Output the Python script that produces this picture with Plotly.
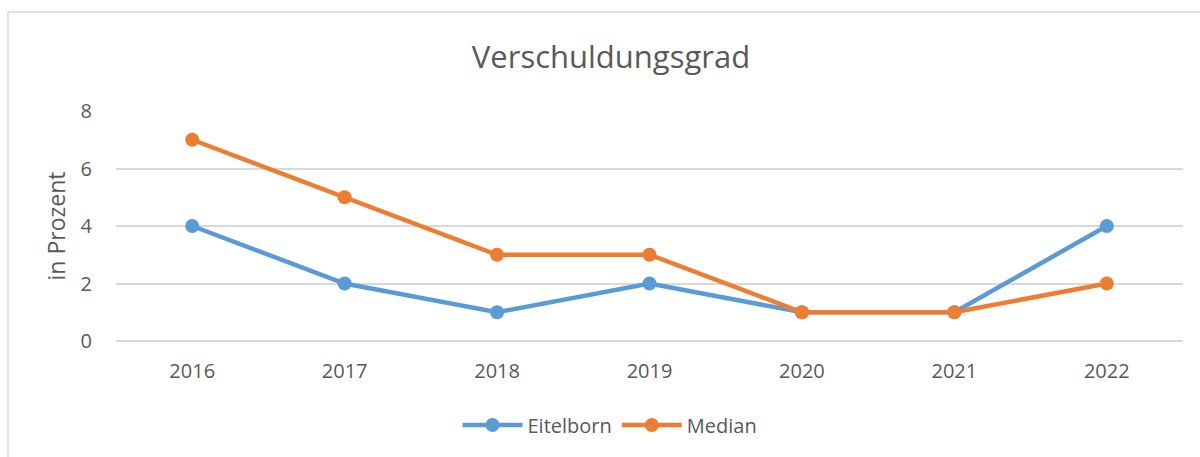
import plotly.graph_objects as go

years = ["2016", "2017", "2018", "2019", "2020", "2021", "2022"]
eitelborn = [4, 2, 1, 2, 1, 1, 4]
median = [7, 5, 3, 3, 1, 1, 2]
y_ticks = [0, 2, 4, 6, 8]

W, H = 1200, 457
L, R, T, B = 116, 17, 111, 116
pw, ph = W - L - R, H - T - B

def px_x(px):
    return (px - L) / pw

def px_y(py):
    return (H - B - py) / ph

fig = go.Figure()
fig.add_trace(go.Scatter(x=years, y=eitelborn, name="Eitelborn", mode="lines+markers",
                         line=dict(color="#5B9BD5", width=4.5), marker=dict(size=14, color="#5B9BD5")))
fig.add_trace(go.Scatter(x=years, y=median, name="Median", mode="lines+markers",
                         line=dict(color="#ED7D31", width=4.5), marker=dict(size=14, color="#ED7D31")))

fig.update_layout(
    width=W, height=H,
    margin=dict(l=L, r=R, t=T, b=B),
    paper_bgcolor="white", plot_bgcolor="white",
    font=dict(family="Open Sans, Liberation Sans, sans-serif", color="#595959", size=20),
    title=dict(text="Verschuldungsgrad", x=px_x(611), xref="paper", xanchor="center",
               y=1 - 57 / H, yanchor="middle", yref="container",
               font=dict(size=31, color="#595959")),
    xaxis=dict(type="category", range=[-0.5, 6.5], showgrid=False, zeroline=False,
               showline=False, ticks="", ticklabelstandoff=16, tickfont=dict(size=20)),
    yaxis=dict(range=[0, 8], tickvals=y_ticks, showgrid=True, gridcolor="#D9D9D9",
               gridwidth=1.5, zeroline=True, zerolinecolor="#D9D9D9", zerolinewidth=1.5,
               showline=False, ticks="", ticklabelstandoff=23,
               title=dict(text="in Prozent", font=dict(size=23), standoff=8),
               tickfont=dict(size=20)),
    legend=dict(orientation="h", x=px_x(610), xanchor="center", y=px_y(425), yanchor="middle",
                font=dict(size=20), itemwidth=60, tracegroupgap=0),
    showlegend=True,
    shapes=[dict(type="rect", xref="paper", yref="paper",
                 x0=px_x(8), x1=px_x(1230), y0=px_y(12), y1=px_y(480),
                 line=dict(color="#D9D9D9", width=1.5), layer="below")],
)

fig.write_html("out.html", config={"displayModeBar": False},
               post_script="document.body.style.margin='0px';")
